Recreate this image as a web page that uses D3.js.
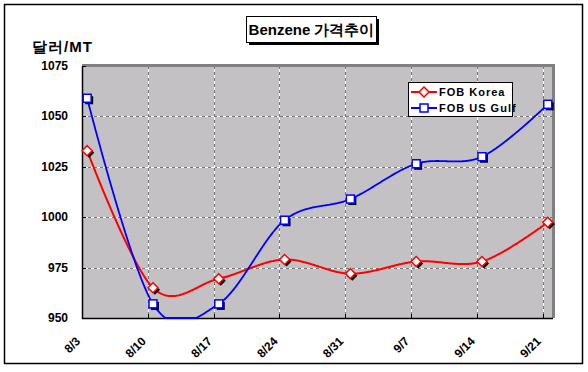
<html>
<head>
<meta charset="utf-8">
<title>Benzene 가격추이</title>
<script src="https://d3js.org/d3.v7.min.js"></script>
<style>
  body { margin: 0; background: #fff; }
  text { font-family: Arial, "Liberation Sans", sans-serif; font-weight: bold; }
</style>
</head>
<body>
<div id="chart"></div>
<script>
// data
var dates = ["8/3", "8/10", "8/17", "8/24", "8/31", "9/7", "9/14", "9/21"]
var korea = [1033, 965, 969.5, 979, 972, 978, 978, 997.5]
var usGulf = [1059, 957, 957, 998.5, 1009, 1026.5, 1030, 1056]
var yTicks = [950, 975, 1000, 1025, 1050, 1075]

var W = 588, H = 372
var pL = 82, pR = 552, pT = 66, pB = 318

var svg = d3.select("#chart").append("svg")
    .attr("width", W).attr("height", H)

// outer frame
svg.append("rect")
    .attr("x", 4.5).attr("y", 4.5).attr("width", 578).attr("height", 359)
    .attr("fill", "#fff").attr("stroke", "#000").attr("stroke-width", 1.5)

// day scale: 8/3 = day 0, weekly steps, axis runs to 9/22
var x = d3.scaleLinear().domain([0, 50]).range([pL, pR])
var y = d3.scaleLinear().domain([950, 1075]).range([pB, pT])
var dayOf = function(i) { return i * 7 }
var ptOffset = 0.55

// plot area
svg.append("rect")
    .attr("x", pL).attr("y", pT).attr("width", pR - pL).attr("height", pB - pT)
    .attr("fill", "#c3c1c3")

// gridlines
var g = svg.append("g")
yTicks.slice(1, -1).forEach(function(v) {
  var yy = Math.round(y(v)) + 0.5
  g.append("line").attr("x1", pL).attr("x2", pR).attr("y1", yy).attr("y2", yy)
    .attr("stroke", "#fff")
  g.append("line").attr("x1", pL).attr("x2", pR).attr("y1", yy).attr("y2", yy)
    .attr("stroke", "#777").attr("stroke-dasharray", "3,3")
})
dates.forEach(function(d, i) {
  if (i == 0) return
  var xx = Math.round(x(dayOf(i))) + 0.5
  g.append("line").attr("x1", xx).attr("x2", xx).attr("y1", pT).attr("y2", pB)
    .attr("stroke", "#fff")
  g.append("line").attr("x1", xx).attr("x2", xx).attr("y1", pT).attr("y2", pB)
    .attr("stroke", "#777").attr("stroke-dasharray", "3,3")
})

// plot border: gray top/right, black left/bottom
svg.append("path")
    .attr("d", "M" + pL + "," + (pT - 0.5) + "H" + (pR + 1.5) + "V" + pB)
    .attr("fill", "none").attr("stroke", "#808080").attr("stroke-width", 3)
svg.append("path")
    .attr("d", "M" + (pL + 0.5) + "," + pT + "V" + (pB + 0.5) + "H" + (pR + 1))
    .attr("fill", "none").attr("stroke", "#000").attr("stroke-width", 1.5)

// tick marks
yTicks.forEach(function(v) {
  var yy = Math.round(y(v)) + 0.5
  svg.append("line").attr("x1", pL).attr("x2", pL + 4).attr("y1", yy).attr("y2", yy)
    .attr("stroke", "#000")
})
dates.forEach(function(d, i) {
  var xx = Math.round(x(dayOf(i))) + 0.5
  svg.append("line").attr("x1", xx).attr("x2", xx).attr("y1", pB).attr("y2", pB - 4)
    .attr("stroke", "#000")
})

// y labels
svg.selectAll(".ylab").data(yTicks).enter().append("text")
    .attr("x", 68).attr("y", function(d) { return y(d) + 4 })
    .attr("text-anchor", "end").style("font-size", "12px")
    .text(function(d) { return d })

// x labels, rotated
svg.selectAll(".xlab").data(dates).enter().append("text")
    .attr("text-anchor", "end").style("font-size", "12px")
    .attr("transform", function(d, i) {
      return "translate(" + (x(dayOf(i)) - 1) + "," + 342 + ") rotate(-45)"
    })
    .text(function(d) { return d })

// axis title
svg.append("text").attr("x", 32).attr("y", 52).style("font-size", "15px")
    .style("letter-spacing", "1px").text("달러/MT")

// chart title box
svg.append("rect").attr("x", 249).attr("y", 19).attr("width", 130).attr("height", 26).attr("fill", "#000")
svg.append("rect").attr("x", 246.5).attr("y", 16.5).attr("width", 130).attr("height", 26)
    .attr("fill", "#fff").attr("stroke", "#000")
svg.append("text").attr("x", 311.5).attr("y", 35).attr("text-anchor", "middle")
    .style("font-size", "15px").text("Benzene 가격추이")

// series
var line = d3.line()
    .x(function(d, i) { return x(dayOf(i) + ptOffset) })
    .y(function(d) { return y(d) })
    .curve(d3.curveCatmullRom.alpha(0))

var series = [
  { name: "FOB Korea", values: korea, color: "#ff0000", shape: "diamond", width: 2 },
  { name: "FOB US Gulf", values: usGulf, color: "#0000ff", shape: "square", width: 1.8 }
]

function marker(sel, shape) {
  if (shape == "square") return sel.append("rect").attr("x", -4).attr("y", -4).attr("width", 8).attr("height", 8)
  return sel.append("path").attr("d", "M0,-5L5,0L0,5L-5,0Z")
}

// smoothed line, then flattened where it leaves the plot (like Excel does)
series.forEach(function(s) {
  var tmp = svg.append("path").datum(s.values).attr("d", line).attr("fill", "none")
  var node = tmp.node(), len = node.getTotalLength(), pts = []
  for (var l = 0; l <= len; l += 1) {
    var p = node.getPointAtLength(l)
    pts.push([p.x, Math.max(pT, Math.min(pB, p.y))])
  }
  var p = node.getPointAtLength(len)
  pts.push([p.x, Math.max(pT, Math.min(pB, p.y))])
  tmp.remove()
  svg.append("path").datum(pts)
      .attr("d", d3.line())
      .attr("fill", "none")
      .attr("stroke", s.color).attr("stroke-width", s.width)
})

series.forEach(function(s) {
  s.values.forEach(function(v, i) {
    var px = x(dayOf(i) + ptOffset), py = y(v)
    marker(svg.append("g").attr("transform", "translate(" + (px + 2) + "," + (py + 2) + ")"), s.shape)
        .attr("fill", "#000")
    marker(svg.append("g").attr("transform", "translate(" + px + "," + py + ")"), s.shape)
        .attr("fill", "#fff").attr("stroke", s.color).attr("stroke-width", 1.5)
  })
})

// legend
var lg = svg.append("g").attr("transform", "translate(408,82)")
lg.append("rect").attr("x", 0.5).attr("y", 0.5).attr("width", 104).attr("height", 34)
    .attr("fill", "#fff").attr("stroke", "#000")
series.forEach(function(s, i) {
  var ly = 10 + i * 16
  lg.append("line").attr("x1", 3).attr("x2", 29).attr("y1", ly).attr("y2", ly)
      .attr("stroke", s.color).attr("stroke-width", 2)
  marker(lg.append("g").attr("transform", "translate(16," + ly + ")"), s.shape)
      .attr("fill", "#fff").attr("stroke", s.color).attr("stroke-width", 1.5)
  lg.append("text").attr("x", 31).attr("y", ly + 4).style("font-size", "11px")
      .style("letter-spacing", "1px").text(s.name)
})
</script>
</body>
</html>
